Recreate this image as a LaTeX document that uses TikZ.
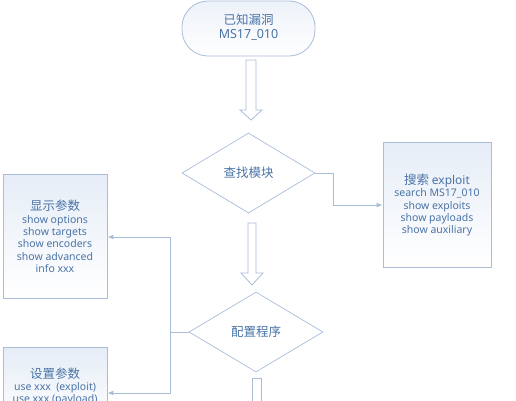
\documentclass[tikz,border=0pt]{standalone}
\usepackage{fontspec}
\setmainfont{Noto Sans}
\newfontfamily\cjk{Noto Sans CJK SC}
\usetikzlibrary{shapes.geometric,arrows.meta}
\definecolor{lineC}{HTML}{A9BDD8}
\definecolor{textC}{HTML}{4A74A6}
\definecolor{fillC}{HTML}{E6EDF7}
\tikzset{
  box/.style={draw=lineC,line width=0.9pt,top color=fillC,bottom color=white,inner sep=0pt},
  dia/.style={draw=lineC,line width=0.7pt,fill=white,diamond,aspect=1.66,inner sep=0pt},
  term/.style={draw=lineC,line width=0.8pt,rounded corners=26pt,top color=fillC!70,bottom color=white},
  conn/.style={draw=lineC,line width=1pt,-{Latex[length=6pt,width=5pt]}},
  blk/.style={draw=lineC,line width=0.8pt,fill=white,line join=miter},
  txt/.style={text=textC,align=center,font=\fontsize{10.5}{12.4}\selectfont},
}
\newcommand{\cn}[1]{{\cjk\fontsize{12.5}{14}\selectfont #1}}
\begin{document}
\begin{tikzpicture}[x=1pt,y=-1pt]
\useasboundingbox (0,0) rectangle (516,400);
% terminal
\draw[term] (182,1) rectangle (315,56);
\node[txt,font=\fontsize{12.5}{14}\selectfont] (t) at (248.5,27) {\cn{已知漏洞}\\MS17\_010};
% block arrow 1
\draw[blk] (246,60) -- (256,60) -- (256,110) -- (262,110) -- (251,120) -- (240,110) -- (246,110) -- cycle;
% diamond 1
\node[dia,minimum width=133pt,minimum height=80pt] (d1) at (248.5,173) {};
\node[txt] at (d1) {\cn{查找模块}};
% right box
\node[box,minimum width=108pt,minimum height=125pt] (rb) at (437,204.5) {};
\node[txt] at (437,205) {{\cjk\fontsize{12.5}{14}\selectfont 搜索 }{\fontsize{12}{14}\selectfont exploit}\\search MS17\_010\\show exploits\\show payloads\\show auxiliary};
\coordinate (c1) at (333,173);
\draw[conn] (d1.east) -- (c1) |- (rb.west |- 0,205);
% block arrow 2
\draw[blk] (248,223) -- (256,223) -- (256,273) -- (263,273) -- (252,285) -- (241,273) -- (248,273) -- cycle;
% diamond 2
\node[dia,minimum width=134pt,minimum height=80pt] (d2) at (256,332) {};
\node[txt] at (d2) {\cn{配置程序}};
% left box
\node[box,minimum width=104pt,minimum height=124pt] (lb) at (55,236) {};
\node[txt] at (55,236.5) {\cn{显示参数}\\show options\\show targets\\show encoders\\show advanced\\info xxx};
% bottom-left box
\node[box,minimum width=104pt,minimum height=80pt,anchor=north] (bb) at (55,347) {};
\node[txt,anchor=north] at (55,364) {\cn{设置参数}\\use xxx\ \ (exploit)\\use xxx (payload)};
\coordinate (c2) at (170,332);
\draw[conn] (d2.west) -- (c2) |- (lb.east |- 0,237);
\draw[conn] (c2) |- (bb.east |- 0,393);
% block arrow 3
\draw[blk] (252,378) -- (261,378) -- (261,410) -- (252,410) -- cycle;
\end{tikzpicture}
\end{document}
